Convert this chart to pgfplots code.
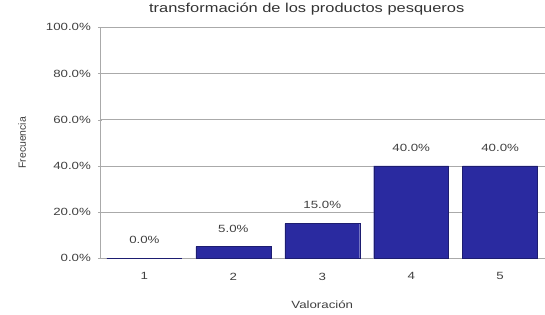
\documentclass[border=0pt]{standalone}
\usepackage{pgfplots}
\pgfplotsset{compat=1.18}
\usepackage{fontspec}
\setmainfont{Liberation Sans}
\definecolor{barblue}{RGB}{42,42,160}
\definecolor{gridgray}{RGB}{170,170,170}
\begin{document}
\begin{tikzpicture}
\begin{axis}[
  scale only axis,
  width=445bp, height=231bp,
  ybar, bar width=75bp,
  xmin=0.5, xmax=5.5, ymin=0, ymax=100,
  xtick={1,2,3,4,5}, xticklabels={1,2,3,4,5},
  ytick={0,20,40,60,80,100},
  yticklabel={\pgfmathprintnumber[fixed,fixed zerofill,precision=1]{\tick}\%},
  /pgf/number format/assume math mode=true,
  axis x line=bottom, axis y line=left,
  axis line style={gridgray,-},
  ymajorgrids, grid style={gridgray,line width=0.8pt},
  major tick length=4bp,
  xtick style={draw=none},
  ytick style={gridgray},
  tick label style={font=\fontsize{10.5}{12}\selectfont, text=black!75, xscale=1.27},
  xticklabel style={yshift=-9bp},
  yticklabel style={xshift=-2bp, anchor=east},
  nodes near coords={\pgfmathprintnumber[fixed,fixed zerofill,precision=1]{\pgfplotspointmeta}\%},
  every node near coord/.append style={font=\fontsize{10.5}{12}\selectfont, text=black!75, xscale=1.27, yshift=11bp},
  xlabel={Valoración},
  xlabel style={at={(axis description cs:0.5,-0.2)}, anchor=center, font=\fontsize{10.5}{12}\selectfont, text=black!75, xscale=1.27},
  ylabel={Frecuencia},
  ylabel style={at={(axis description cs:-0.175,0.5)}, anchor=center, font=\fontsize{10.5}{12}\selectfont, text=black!75},
  title={transformación de los productos pesqueros},
  title style={at={(axis description cs:0.465,1.052)}, anchor=center, font=\fontsize{13}{14}\selectfont, text=black!80, xscale=1.27},
  clip=false,
]
\addplot[fill=barblue, draw=barblue!70!black] coordinates {(1,0) (2,5) (3,15) (4,40) (5,40)};
\coordinate (o) at (rel axis cs:0,0);
\end{axis}
\path (o) ++(-100bp,-56bp) rectangle ++(545bp,311bp);
\end{tikzpicture}
\end{document}
